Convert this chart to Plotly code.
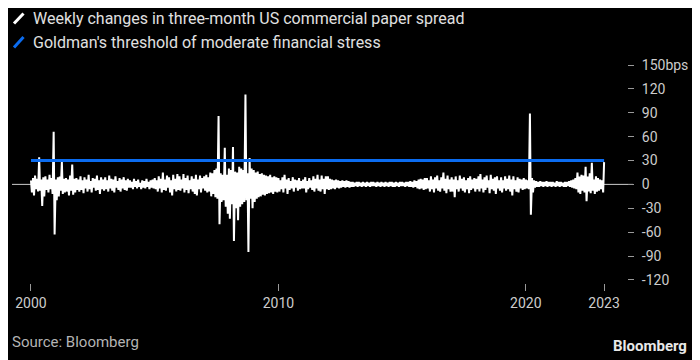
import pandas as pd
import plotly.graph_objects as go

# ---- data: weekly changes in 3M US CP spread (bps), read per half-month:
# hi_* = first-half reading (upswing), lo_* = second-half reading (downswing)
hi_2000 = [5, 8, 11, 7, 34, 6, 9, 10, 6, 12, 8, 66]
lo_2000 = [-10, -14, -6, -9, -8, -27, -15, -7, -10, -6, -12, -63]
hi_2001 = [6, 9, 10, 28, 7, 8, 6, 11, 25, 7, 8, 6]
lo_2001 = [-20, -15, -8, -12, -10, -9, -14, -8, -13, -10, -7, -9]
hi_2002 = [10, 5, 9, 6, 12, 4, 8, 7, 11, 5, 9, 6]
lo_2002 = [-7, -11, -5, -9, -6, -10, -4, -8, -7, -12, -6, -8]
hi_2003 = [9, 5, 11, 7, 6, 10, 4, 8, 6, 9, 5, 7]
lo_2003 = [-6, -9, -5, -8, -10, -4, -7, -9, -5, -7, -8, -4]
hi_2004 = [5, 3, 7, 4, 6, 2, 5, 4, 7, 3, 5, 6]
lo_2004 = [-4, -6, -3, -5, -3, -6, -4, -5, -3, -6, -4, -5]
hi_2005 = [8, 5, 10, 7, 15, 6, 11, 9, 5, 12, 7, 13]
lo_2005 = [-6, -9, -5, -10, -7, -8, -4, -10, -14, -6, -9, -7]
hi_2006 = [10, 6, 13, 8, 11, 5, 10, 7, 12, 6, 11, 8]
lo_2006 = [-8, -5, -10, -7, -11, -6, -9, -12, -14, -6, -10, -5]
hi_2007 = [10, 12, 9, 15, 14, 18, 20, 86, 14, 12, 46, 12]
lo_2007 = [-8, -10, -9, -15, -12, -16, -18, -50, -22, -20, -28, -37]
hi_2008 = [20, 18, 47, 16, 15, 22, 20, 18, 113, 14, 33, 20]
lo_2008 = [-43, -25, -71, -30, -45, -28, -25, -22, -20, -85, -18, -30]
hi_2009 = [18, 15, 16, 13, 14, 12, 11, 10, 12, 9, 10, 9]
lo_2009 = [-22, -18, -16, -15, -13, -14, -12, -11, -10, -12, -9, -10]
hi_2010 = [8, 5, 9, 12, 6, 8, 4, 9, 6, 5, 8, 4]
lo_2010 = [-9, -6, -10, -5, -12, -7, -5, -9, -4, -8, -6, -5]
hi_2011 = [6, 9, 4, 8, 5, 10, 7, 12, 6, 11, 7, 10]
lo_2011 = [-5, -10, -6, -4, -7, -9, -5, -8, -9, -6, -12, -6]
hi_2012 = [10, 7, 6, 5, 6, 5, 4, 5, 4, 5, 4, 3]
lo_2012 = [-7, -6, -5, -6, -4, -5, -4, -3, -4, -3, -4, -3]
hi_2013 = [3, 2, 3, 3, 2, 3, 2, 3, 2, 3, 3, 2]
lo_2013 = [-3, -2, -3, -2, -3, -2, -3, -2, -3, -2, -2, -3]
hi_2014 = [3, 2, 3, 2, 3, 2, 3, 3, 2, 3, 2, 3]
lo_2014 = [-2, -3, -2, -3, -2, -3, -2, -3, -3, -2, -3, -2]
hi_2015 = [3, 2, 3, 3, 4, 3, 5, 4, 6, 7, 6, 8]
lo_2015 = [-2, -3, -2, -3, -3, -4, -3, -5, -6, -5, -7, -6]
hi_2016 = [8, 5, 10, 6, 9, 11, 5, 9, 15, 7, 11, 6]
lo_2016 = [-5, -9, -6, -10, -5, -8, -9, -5, -8, -11, -6, -9]
hi_2017 = [9, 6, 10, 5, 11, 7, 9, 5, 8, 10, 6, 8]
lo_2017 = [-9, -16, -6, -9, -5, -8, -10, -6, -11, -7, -5, -9]
hi_2018 = [7, 10, 13, 6, 9, 11, 5, 12, 7, 9, 10, 5]
lo_2018 = [-6, -9, -5, -10, -7, -4, -11, -6, -8, -12, -5, -8]
hi_2019 = [9, 5, 10, 7, 11, 6, 10, 5, 9, 7, 6, 8]
lo_2019 = [-10, -5, -8, -6, -9, -14, -6, -9, -10, -5, -7, -6]
hi_2020 = [6, 5, 89, 8, 5, 4, 3, 4, 3, 3, 4, 3]
lo_2020 = [-5, -6, -38, -10, -4, -3, -3, -2, -3, -2, -3, -2]
hi_2021 = [3, 3, 2, 4, 3, 3, 2, 3, 3, 4, 5, 6]
lo_2021 = [-3, -2, -3, -2, -3, -2, -3, -3, -2, -3, -4, -5]
hi_2022 = [8, 15, 10, 12, 11, 22, 10, 14, 27, 6, 10, 8]
lo_2022 = [-6, -10, -12, -8, -10, -21, -9, -11, -8, -12, -9, -8]
hi_2023 = [6, 5, 28]
lo_2023 = [-6, -10]

threshold = 30
y_tick_vals = [150, 120, 90, 60, 30, 0, -30, -60, -90, -120]
y_tick_text = ["150bps", "120", "90", "60", "30", "0", "-30", "-60", "-90", "-120"]
x_tick_text = ["2000", "2010", "2020", "2023"]

series_name = "Weekly changes in three-month US commercial paper spread"
threshold_name = "Goldman's threshold of moderate financial stress"

his = [hi_2000, hi_2001, hi_2002, hi_2003, hi_2004, hi_2005, hi_2006, hi_2007, hi_2008,
       hi_2009, hi_2010, hi_2011, hi_2012, hi_2013, hi_2014, hi_2015, hi_2016, hi_2017,
       hi_2018, hi_2019, hi_2020, hi_2021, hi_2022, hi_2023]
los = [lo_2000, lo_2001, lo_2002, lo_2003, lo_2004, lo_2005, lo_2006, lo_2007, lo_2008,
       lo_2009, lo_2010, lo_2011, lo_2012, lo_2013, lo_2014, lo_2015, lo_2016, lo_2017,
       lo_2018, lo_2019, lo_2020, lo_2021, lo_2022, lo_2023]

values = []
for hi, lo in zip(his, los):
    for i, h in enumerate(hi):
        values.append(h)
        if i < len(lo):
            values.append(lo[i])

dates = pd.date_range("2000-01-01", periods=len(values), freq="SMS")
x_tick_vals = [dates[0], pd.Timestamp("2010-01-01"), pd.Timestamp("2020-01-01"), dates[-1]]

# screen geometry (page shows the figure offset by the body margin)
OFF = 8
W, H = 700, 360
ML, MR, MT, MB = 12, 73, 65, 77
PW, PH = W - ML - MR, H - MT - MB


def px(x):
    return (x - ML) / PW


def py(y):
    return (H - MB - y) / PH


fig = go.Figure()
fig.add_trace(go.Scatter(x=dates, y=values, mode="lines",
                         line=dict(color="#ffffff", width=2), name=series_name,
                         showlegend=False))
fig.add_trace(go.Scatter(x=[dates[0], dates[-1]], y=[threshold, threshold], mode="lines",
                         line=dict(color="#0b6cf0", width=3.2), name=threshold_name,
                         showlegend=False))

font_family = "Roboto, 'Noto Sans', sans-serif"

shapes = [
    dict(type="line", xref="paper", yref="y", x0=0, x1=1 + 6 / PW, y0=0, y1=0,
         line=dict(color="#cccccc", width=1), layer="below"),
    dict(type="line", xref="paper", yref="paper", x0=px(14), x1=px(23.5), y0=py(23.5), y1=py(13.5),
         line=dict(color="#ffffff", width=3)),
    dict(type="line", xref="paper", yref="paper", x0=px(14), x1=px(23.5), y0=py(47.5), y1=py(37),
         line=dict(color="#0b6cf0", width=3)),
]

annotations = [
    dict(text=series_name, xref="paper", yref="paper", x=px(31), y=py(18),
         xanchor="left", yanchor="middle", showarrow=False,
         font=dict(family=font_family, size=16, color="#e0e0e0")),
    dict(text=threshold_name, xref="paper", yref="paper", x=px(31), y=py(42),
         xanchor="left", yanchor="middle", showarrow=False,
         font=dict(family=font_family, size=16, color="#e0e0e0")),
    dict(text="Source: Bloomberg", xref="paper", yref="paper", x=px(10), y=py(342),
         xanchor="left", yanchor="middle", showarrow=False,
         font=dict(family=font_family, size=15, color="#b4b4b4")),
    dict(text="<b>Bloomberg</b>", xref="paper", yref="paper", x=px(689), y=py(346),
         xanchor="right", yanchor="middle", showarrow=False,
         font=dict(family=font_family, size=15, color="#e8e8e8")),
]

fig.update_layout(
    width=W - OFF, height=H - OFF,
    margin=dict(l=ML - OFF, r=MR, t=MT - OFF, b=MB, pad=0),
    paper_bgcolor="#000000", plot_bgcolor="#000000",
    showlegend=False,
    shapes=shapes, annotations=annotations,
    font=dict(family=font_family, color="#cccccc", size=14),
    xaxis=dict(
        range=["1999-03-27", "2024-02-02"],
        showgrid=False, zeroline=False, showline=False,
        tickmode="array", tickvals=x_tick_vals, ticktext=x_tick_text,
        ticks="outside", ticklen=7, tickcolor="#999999", tickwidth=1,
        tickfont=dict(family=font_family, size=14, color="#cccccc"),
    ),
    yaxis=dict(
        side="right", range=[-123.9, 150],
        showgrid=False, zeroline=False, showline=False,
        tickmode="array", tickvals=y_tick_vals, ticktext=y_tick_text,
        ticks="outside", ticklen=6, tickcolor="#999999", tickwidth=1,
        ticklabelstandoff=5, automargin=False,
        tickfont=dict(family=font_family, size=14, color="#cccccc"),
    ),
)

fig.write_html("out.html")
